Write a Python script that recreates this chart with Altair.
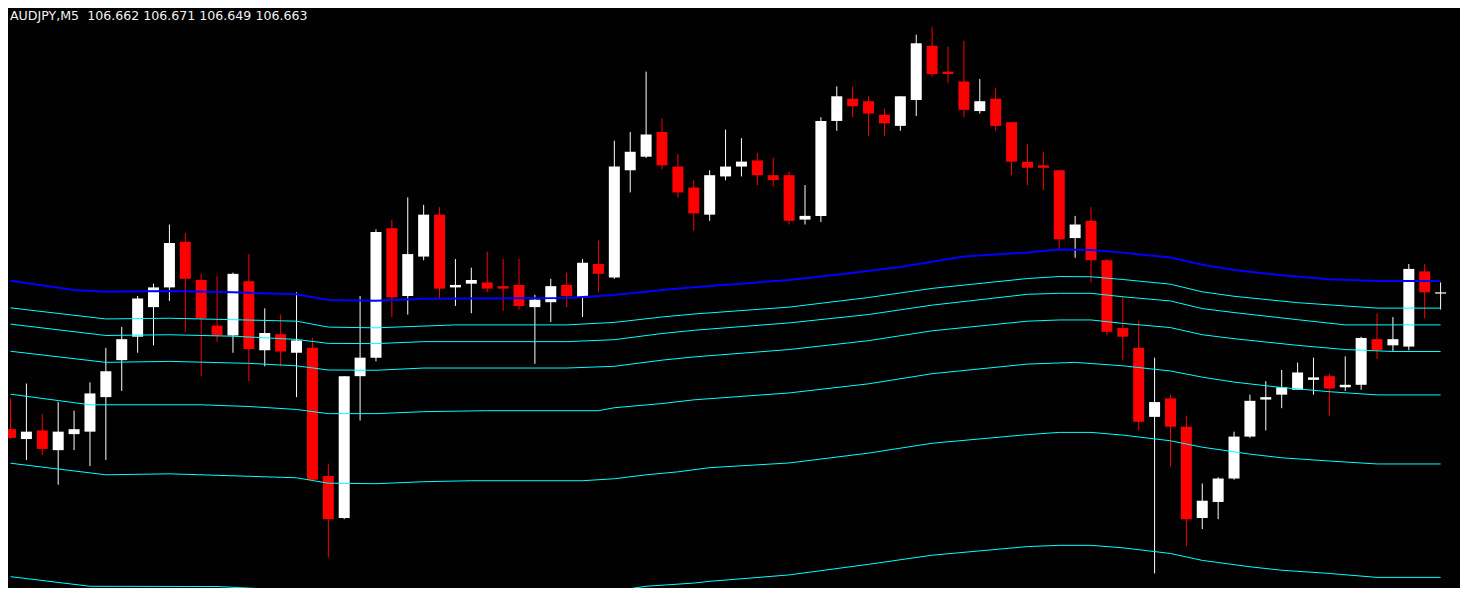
import altair as alt
import pandas as pd

symbol = "AUDJPY,M5"

# OHLC of each M5 candle, oldest first
opens = [
    106.552, 106.544, 106.551, 106.535, 106.548, 106.550, 106.578, 106.608, 106.627, 106.651,
    106.667, 106.704, 106.673, 106.636, 106.628, 106.672, 106.616, 106.629, 106.614, 106.618,
    106.514, 106.480, 106.595, 106.610, 106.715, 106.660, 106.692, 106.726, 106.667, 106.670,
    106.671, 106.668, 106.669, 106.651, 106.655, 106.669, 106.659, 106.686, 106.675, 106.762,
    106.773, 106.793, 106.765, 106.748, 106.726, 106.757, 106.765, 106.770, 106.758, 106.758,
    106.722, 106.725, 106.802, 106.820, 106.818, 106.807, 106.798, 106.819, 106.863, 106.842,
    106.834, 106.810, 106.820, 106.801, 106.769, 106.766, 106.762, 106.707, 106.721, 106.689,
    106.634, 106.618, 106.562, 106.577, 106.554, 106.480, 106.493, 106.512, 106.546, 106.576,
    106.580, 106.584, 106.592, 106.595, 106.586, 106.588, 106.625, 106.620, 106.619, 106.680,
    106.662,
]
highs = [
    106.577, 106.589, 106.564, 106.574, 106.567, 106.590, 106.618, 106.635, 106.660, 106.670,
    106.718, 106.711, 106.678, 106.676, 106.679, 106.694, 106.650, 106.645, 106.663, 106.626,
    106.524, 106.595, 106.660, 106.714, 106.722, 106.740, 106.734, 106.732, 106.690, 106.683,
    106.696, 106.690, 106.690, 106.661, 106.674, 106.679, 106.690, 106.705, 106.786, 106.793,
    106.842, 106.804, 106.775, 106.754, 106.762, 106.795, 106.788, 106.776, 106.772, 106.761,
    106.750, 106.805, 106.830, 106.830, 106.822, 106.812, 106.822, 106.872, 106.878, 106.862,
    106.867, 106.836, 106.829, 106.801, 106.783, 106.777, 106.762, 106.725, 106.732, 106.690,
    106.660, 106.640, 106.610, 106.580, 106.563, 106.508, 106.513, 106.550, 106.580, 106.591,
    106.600, 106.606, 106.610, 106.597, 106.611, 106.627, 106.646, 106.643, 106.686, 106.686,
    106.671,
]
lows = [
    106.544, 106.527, 106.531, 106.507, 106.535, 106.522, 106.527, 106.583, 106.614, 106.620,
    106.656, 106.631, 106.595, 106.623, 106.614, 106.591, 106.603, 106.603, 106.578, 106.510,
    106.448, 106.479, 106.559, 106.607, 106.643, 106.645, 106.689, 106.658, 106.652, 106.646,
    106.663, 106.648, 106.649, 106.605, 106.639, 106.651, 106.643, 106.663, 106.674, 106.744,
    106.772, 106.763, 106.740, 106.713, 106.721, 106.754, 106.757, 106.750, 106.749, 106.718,
    106.718, 106.720, 106.794, 106.805, 106.790, 106.790, 106.794, 106.806, 106.838, 106.833,
    106.805, 106.808, 106.794, 106.758, 106.750, 106.746, 106.699, 106.691, 106.671, 106.628,
    106.608, 106.551, 106.435, 106.522, 106.457, 106.471, 106.479, 106.511, 106.545, 106.551,
    106.569, 106.584, 106.580, 106.563, 106.583, 106.584, 106.609, 106.615, 106.616, 106.642,
    106.649,
]
closes = [
    106.545, 106.550, 106.536, 106.550, 106.552, 106.581, 106.599, 106.625, 106.658, 106.667,
    106.703, 106.674, 106.642, 106.628, 106.678, 106.617, 106.630, 106.615, 106.624, 106.511,
    106.479, 106.595, 106.610, 106.712, 106.659, 106.694, 106.726, 106.666, 106.669, 106.673,
    106.666, 106.666, 106.652, 106.657, 106.668, 106.660, 106.687, 106.678, 106.765, 106.777,
    106.791, 106.766, 106.744, 106.727, 106.758, 106.765, 106.769, 106.758, 106.754, 106.721,
    106.725, 106.802, 106.822, 106.814, 106.808, 106.800, 106.822, 106.865, 106.840, 106.840,
    106.811, 106.818, 106.798, 106.769, 106.764, 106.764, 106.706, 106.718, 106.689, 106.631,
    106.627, 106.558, 106.574, 106.554, 106.479, 106.494, 106.512, 106.546, 106.575, 106.578,
    106.586, 106.598, 106.594, 106.585, 106.588, 106.626, 106.616, 106.625, 106.682, 106.663,
    106.663,
]

# Blue moving average (candle index, value)
ma_idx = [0, 4, 6, 10, 14, 18, 20, 23, 26, 35, 38, 41, 43, 49, 52, 56, 60, 64, 66, 68,
          70, 73, 75, 77, 80, 83, 86, 90]
ma_val = [106.6724, 106.6648, 106.6634, 106.6640, 106.6630, 106.6614, 106.6568, 106.6562,
          106.6578, 106.6584, 106.6608, 106.6648, 106.6672, 106.6730, 106.6772, 106.6836,
          106.6920, 106.6954, 106.6978, 106.6974, 106.6952, 106.6912, 106.6854, 106.6812,
          106.6768, 106.6736, 106.6722, 106.6722]

# Cyan bands below the average
band1_idx = [0, 6, 10, 14, 18, 20, 23, 28, 35, 38, 41, 43, 49, 54, 58, 64, 66, 68, 70, 73,
             75, 77, 81, 86, 90]
band1_val = [106.6504, 106.6414, 106.6420, 106.6408, 106.6396, 106.6348, 106.6342, 106.6366,
             106.6366, 106.6386, 106.6430, 106.6454, 106.6510, 106.6588, 106.6662, 106.6742,
             106.6758, 106.6756, 106.6734, 106.6696, 106.6634, 106.6598, 106.6546, 106.6502,
             106.6502]
band2_idx = [0, 6, 10, 14, 18, 20, 23, 26, 35, 38, 41, 43, 49, 54, 58, 64, 66, 68, 70, 73,
             75, 77, 81, 84, 90]
band2_val = [106.6372, 106.6280, 106.6286, 106.6274, 106.6248, 106.6216, 106.6214, 106.6230,
             106.6230, 106.6246, 106.6296, 106.6322, 106.6382, 106.6450, 106.6526, 106.6614,
             106.6622, 106.6622, 106.6594, 106.6560, 106.6498, 106.6466, 106.6408, 106.6366,
             106.6366]
band3_idx = [0, 6, 10, 15, 18, 20, 23, 26, 35, 38, 41, 43, 49, 54, 58, 64, 66, 68, 70, 73,
             75, 77, 81, 84, 87, 90]
band3_val = [106.6152, 106.6062, 106.6070, 106.6054, 106.6034, 106.6000, 106.5998, 106.6016,
             106.6016, 106.6030, 106.6080, 106.6106, 106.6166, 106.6238, 106.6318, 106.6396,
             106.6406, 106.6406, 106.6378, 106.6344, 106.6286, 106.6254, 106.6200, 106.6166,
             106.6150, 106.6150]
band4_idx = [0, 5, 12, 15, 18, 20, 23, 26, 30, 37, 38, 41, 43, 49, 54, 58, 64, 67, 70, 73,
             75, 77, 80, 83, 86, 90]
band4_val = [106.5804, 106.5718, 106.5718, 106.5704, 106.5680, 106.5646, 106.5646, 106.5662,
             106.5670, 106.5670, 106.5694, 106.5728, 106.5758, 106.5814, 106.5888, 106.5970,
             106.6048, 106.6062, 106.6034, 106.5992, 106.5942, 106.5902, 106.5858, 106.5824,
             106.5798, 106.5798]
band5_idx = [0, 6, 10, 14, 18, 20, 23, 26, 29, 36, 38, 40, 42, 44, 49, 54, 58, 64, 66, 68,
             70, 73, 75, 78, 80, 83, 86, 90]
band5_val = [106.5244, 106.5150, 106.5158, 106.5142, 106.5126, 106.5082, 106.5078, 106.5094,
             106.5102, 106.5102, 106.5118, 106.5150, 106.5174, 106.5208, 106.5246, 106.5326,
             106.5406, 106.5476, 106.5494, 106.5494, 106.5472, 106.5426, 106.5374, 106.5318,
             106.5288, 106.5262, 106.5238, 106.5238]
band6_idx = [0, 5, 13, 18, 23, 35, 38, 40, 43, 44, 49, 54, 58, 64, 66, 68, 70, 73, 75, 78,
             80, 83, 86, 90]
band6_val = [106.4324, 106.4246, 106.4244, 106.4212, 106.4160, 106.4182, 106.4208, 106.4246,
             106.4272, 106.4286, 106.4338, 106.4424, 106.4498, 106.4568, 106.4578, 106.4578,
             106.4558, 106.4512, 106.4456, 106.4404, 106.4376, 106.4350, 106.4318, 106.4318]

candles = pd.DataFrame({
    "i": list(range(len(opens))),
    "open": opens, "high": highs, "low": lows, "close": closes,
})
candles["dir"] = ["up" if c >= o else "down" for o, c in zip(opens, closes)]

ma = pd.DataFrame({"i": ma_idx, "v": ma_val})
band_sets = [
    ("b1", band1_idx, band1_val), ("b2", band2_idx, band2_val),
    ("b3", band3_idx, band3_val), ("b4", band4_idx, band4_val),
    ("b5", band5_idx, band5_val), ("b6", band6_idx, band6_val),
]
bands = pd.concat(
    [pd.DataFrame({"i": bi, "v": bv, "band": name}) for name, bi, bv in band_sets],
    ignore_index=True,
)

xs = alt.Scale(domain=[0.15625, 90.90625], nice=False, zero=False)
ys = alt.Scale(domain=[106.4232, 106.8936], nice=False, zero=False)
X = alt.X("i:Q", scale=xs, axis=None)
col = alt.Color("dir:N", scale=alt.Scale(domain=["up", "down"], range=["#FFFFFF", "#FF0000"]),
                legend=None)

wicks = alt.Chart(candles).mark_rule(strokeWidth=1, clip=True).encode(
    x=X, y=alt.Y("low:Q", scale=ys, axis=None), y2="high:Q", color=col
)
bodies = alt.Chart(candles).mark_bar(size=11, clip=True).encode(
    x=X, y=alt.Y("open:Q", scale=ys, axis=None), y2="close:Q", color=col
)
band_layer = alt.Chart(bands).mark_line(color="#00FFFF", strokeWidth=1, clip=True).encode(
    x=X, y=alt.Y("v:Q", scale=ys, axis=None), detail="band:N", order="i:Q"
)
ma_layer = alt.Chart(ma).mark_line(color="#0000FF", strokeWidth=2, clip=True).encode(
    x=X, y=alt.Y("v:Q", scale=ys, axis=None), order="i:Q"
)

title_text = (f"{symbol}\u00a0\u00a0{opens[-1]:.3f} {highs[-1]:.3f} "
              f"{lows[-1]:.3f} {closes[-1]:.3f}")
label = alt.Chart(pd.DataFrame({"t": [title_text]})).mark_text(
    align="left", baseline="top", font="DejaVu Sans", fontSize=12.6, color="#F2F2F2"
).encode(x=alt.value(2), y=alt.value(2), text="t:N")

chart = alt.layer(wicks, bodies, band_layer, ma_layer, label).properties(
    width=1452, height=580, background="#000000", padding=0,
    autosize=alt.AutoSizeParams(type="none"),
).configure_view(strokeWidth=0)

chart.save("out.html", embed_options={"renderer": "svg", "actions": False})
